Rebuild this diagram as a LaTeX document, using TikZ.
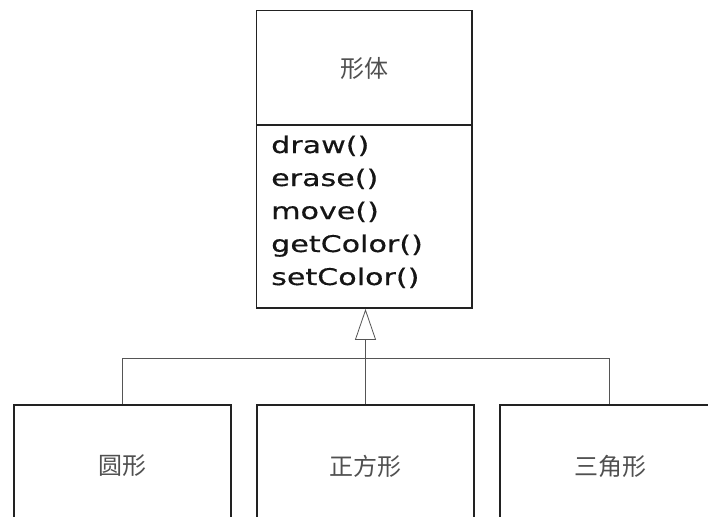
\documentclass[tikz,border=0pt]{standalone}
\usepackage{fontspec}
\usetikzlibrary{arrows.meta}
\newfontfamily\cjk{Noto Sans CJK SC}
\newfontfamily\mfont{DejaVu Sans}[FakeStretch=1.31, FakeBold=0.4]
\definecolor{boxline}{HTML}{222222}
\definecolor{conline}{HTML}{555555}
\definecolor{cjktext}{HTML}{505050}
\definecolor{mtext}{HTML}{151515}
\tikzset{
  classbox/.style={draw=boxline, line width=1.8pt, rectangle, inner sep=0pt},
  cjklabel/.style={font=\cjk\fontsize{24}{24}\selectfont, text=cjktext},
  methodtext/.style={font=\mfont\fontsize{23}{23}\selectfont, text=mtext, anchor=base west, inner sep=0pt},
  conn/.style={draw=conline, line width=0.8pt},
  inherit/.style={conn, -{Triangle[open, length=31pt, width=21pt, fill=white]}}
}
\begin{document}
\begin{tikzpicture}[x=1pt, y=-1pt]
\useasboundingbox (0,0) rectangle (708,516);
% parent class
\node[classbox, minimum width=215.5pt, minimum height=297.5pt] (cls) at (364.25,159.25) {};
\coordinate (divl) at (256.5,125);
\coordinate (divr) at (472,125);
\draw[boxline, line width=1.8pt] (divl) -- (divr);
\node[cjklabel] (hdr) at (364,68) {形体};
\node[methodtext] (m1) at (271,153) {draw()};
\node[methodtext] (m2) at (271,186) {erase()};
\node[methodtext] (m3) at (271,219) {move()};
\node[methodtext] (m4) at (271,252) {getColor()};
\node[methodtext] (m5) at (271,285) {setColor()};
% children
\node[classbox, minimum width=217pt, minimum height=125pt] (b1) at (122.5,467.5) {};
\node[classbox, minimum width=217pt, minimum height=125pt] (b2) at (365.5,467.5) {};
\node[classbox, minimum width=218pt, minimum height=125pt] (b3) at (609,467.5) {};
\node[cjklabel] (t1) at (122.5,466) {圆形};
\node[cjklabel] (t2) at (365.5,466) {正方形};
\node[cjklabel] (t3) at (610,466) {三角形};
% connectors
\coordinate (j) at (365.5,358);
\draw[conn] (b1.north) |- (j);
\draw[conn] (b3.north) |- (j);
\draw[inherit] (b2.north) -- (b2.north |- cls.south);
\end{tikzpicture}
\end{document}
